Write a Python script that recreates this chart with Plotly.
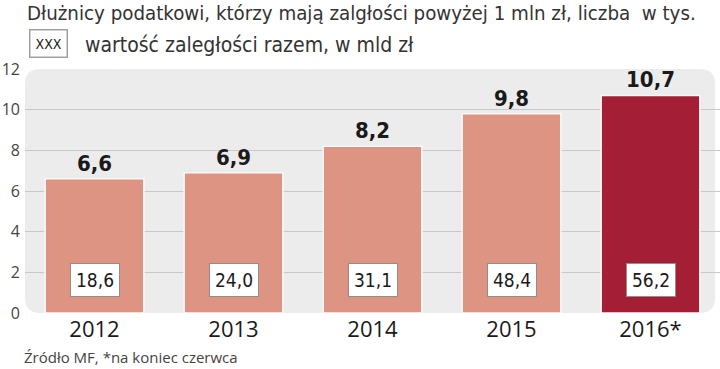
import plotly.graph_objects as go

categories = ["2012", "2013", "2014", "2015", "2016*"]
debtors = [6.6, 6.9, 8.2, 9.8, 10.7]          # liczba w tys.
arrears = [18.6, 24.0, 31.1, 48.4, 56.2]      # wartość zaległości, mld zł
top_labels = ["6,6", "6,9", "8,2", "9,8", "10,7"]
box_labels = ["18,6", "24,0", "31,1", "48,4", "56,2"]
y_ticks = [0, 2, 4, 6, 8, 10, 12]

bar_colors = ["#DD9483"] * 4 + ["#A41E36"]
COND = "DejaVu Sans Condensed, DejaVu Sans, sans-serif"
SANS = "Open Sans, Liberation Sans, sans-serif"

xpos = list(range(len(categories)))

fig = go.Figure()
fig.add_trace(go.Bar(
    x=xpos, y=debtors,
    marker=dict(color=bar_colors, line=dict(color="#FAFAFA", width=1.5)),
    text=top_labels, textposition="outside",
    textfont=dict(family=COND, size=22, color="#1A1A1A", weight="bold"),
    cliponaxis=False, hoverinfo="skip", width=0.71,
))

# rounded background panel
rx, ry = 0.022, 0.062
x0, x1, y0, y1 = 0.0, 0.993, 0.0, 1.0
path = (f"M {x0+rx},{y0} L {x1-rx},{y0} Q {x1},{y0} {x1},{y0+ry} "
        f"L {x1},{y1-ry} Q {x1},{y1} {x1-rx},{y1} L {x0+rx},{y1} "
        f"Q {x0},{y1} {x0},{y1-ry} L {x0},{y0+ry} Q {x0},{y0} {x0+rx},{y0} Z")
shapes = [dict(type="path", path=path, xref="paper", yref="paper",
               fillcolor="#ECECEC", line=dict(width=0), layer="below")]

annotations = []
for i, lab in zip(xpos, box_labels):
    annotations.append(dict(
        x=i, y=0, xref="x", yref="y", text=lab, showarrow=False,
        yanchor="bottom", yshift=16,
        font=dict(family=COND, size=19, color="#1A1A1A"),
        bgcolor="white", bordercolor="#9A8A86", borderwidth=1, borderpad=5,
    ))

annotations += [
    dict(x=25, y=13, xref="pixel", yref="pixel", text="Dłużnicy podatkowi, którzy mają zalgłości powyżej 1 mln zł, liczba  w tys.",
         showarrow=False, xanchor="left", yanchor="middle",
         font=dict(family=COND, size=20.3, color="#333333")),
    dict(x=83, y=45, xref="pixel", yref="pixel", text="wartość zaległości razem, w mld zł",
         showarrow=False, xanchor="left", yanchor="middle",
         font=dict(family=COND, size=21, color="#333333")),
    dict(x=48.5, y=44, xref="pixel", yref="pixel", text="XXX",
         showarrow=False, xanchor="center", yanchor="middle",
         font=dict(family=COND, size=14, color="#1A1A1A"),
         bgcolor="white", bordercolor="#A0A0A0", borderwidth=1.5, borderpad=5),
    dict(x=22, y=357, xref="pixel", yref="pixel", text="Źródło MF, *na koniec czerwca",
         showarrow=False, xanchor="left", yanchor="middle",
         font=dict(family=SANS, size=15, color="#444444")),
]

# convert pixel refs to paper refs
W, H = 720, 369
ml, mr, mt, mb = 25, 0, 69, 56
pw, ph = W - ml - mr, H - mt - mb
for a in annotations:
    if a.get("xref") == "pixel":
        a["x"] = (a["x"] - ml) / pw
        a["xref"] = "paper"
        a["y"] = (H - mb - a["y"]) / ph
        a["yref"] = "paper"

fig.update_layout(
    width=W, height=H,
    margin=dict(l=ml, r=mr, t=mt, b=mb, autoexpand=False),
    paper_bgcolor="white", plot_bgcolor="rgba(0,0,0,0)",
    showlegend=False,
    shapes=shapes, annotations=annotations,
    xaxis=dict(showgrid=False, showline=False, zeroline=False, ticks="",
               tickvals=xpos, ticktext=categories, ticklabelstandoff=1,
               tickfont=dict(family=SANS, size=22, color="#1A1A1A"),
               range=[-0.5, 4.5]),
    yaxis=dict(range=[0, 12], tickvals=y_ticks, showgrid=True,
               gridcolor="#C8C8C8", gridwidth=1, zeroline=False,
               showline=False, ticks="", ticklabelstandoff=4,
               tickfont=dict(family=SANS, size=16, color="#444444")),
    bargap=0.29,
)

fig.write_html("out.html", config={"displayModeBar": False},
               post_script="document.body.style.margin='0';document.body.style.overflow='hidden';")
